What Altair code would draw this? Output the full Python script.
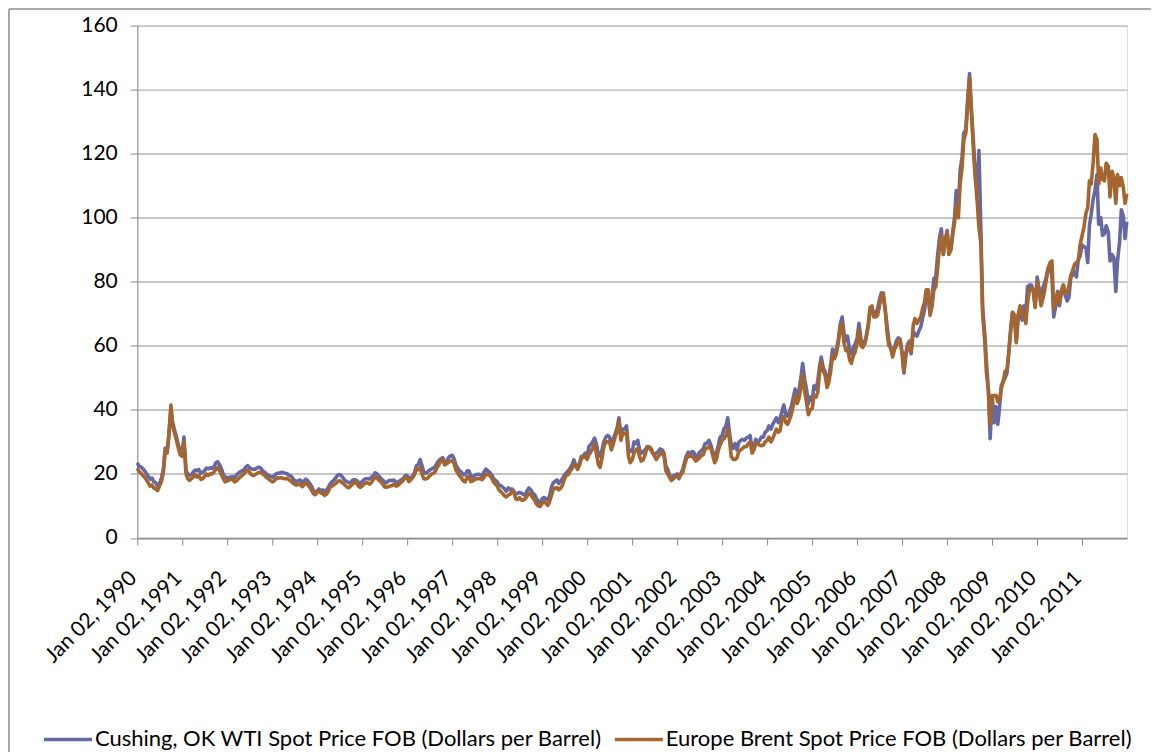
import altair as alt
import pandas as pd

# ---------------- data (semi-monthly points) ----------------
YEARS = list(range(1990, 2012))

WTI = [
    [23.5, 22.4, 22.2, 21.6, 21.0, 20.2, 19.2, 18.4, 18.7, 17.6, 17.2, 16.0, 17.0, 18.5, 21.5, 28.0, 27.5, 32.5, 40.5, 36.0, 33.5, 31.5, 29.0, 27.0],
    [27.0, 31.5, 21.0, 20.0, 19.6, 19.8, 20.6, 21.2, 21.0, 21.4, 20.2, 20.5, 21.0, 21.8, 21.6, 21.9, 21.7, 22.2, 23.5, 23.8, 22.8, 21.6, 19.8, 19.0],
    [18.8, 18.9, 19.0, 19.1, 18.8, 19.6, 20.2, 20.6, 21.0, 21.2, 22.2, 22.6, 21.9, 21.6, 21.4, 21.5, 21.9, 22.1, 21.8, 21.0, 20.5, 19.9, 19.6, 19.2],
    [19.0, 19.3, 20.0, 20.3, 20.2, 20.5, 20.4, 20.2, 20.1, 19.6, 19.3, 18.7, 17.9, 17.6, 17.9, 18.1, 17.3, 17.8, 18.4, 17.9, 17.0, 16.2, 14.8, 14.3],
    [14.6, 15.3, 14.5, 15.0, 14.5, 14.8, 15.8, 16.8, 17.6, 18.0, 18.8, 19.6, 19.8, 19.5, 18.6, 17.9, 17.6, 17.2, 17.4, 18.0, 18.2, 18.0, 17.4, 17.0],
    [17.6, 18.2, 18.5, 18.5, 18.4, 18.9, 19.4, 20.3, 20.0, 19.4, 18.6, 18.1, 17.5, 17.2, 17.8, 18.0, 17.9, 18.1, 17.5, 17.3, 17.8, 18.2, 18.6, 19.4],
    [19.5, 18.4, 18.9, 19.3, 20.5, 22.5, 23.0, 24.5, 22.5, 20.5, 20.2, 20.6, 21.2, 21.5, 21.9, 22.2, 23.5, 24.3, 24.7, 25.1, 23.5, 23.8, 25.0, 25.6],
    [25.8, 24.8, 22.6, 21.8, 21.0, 20.6, 19.7, 19.8, 20.9, 21.0, 19.4, 19.0, 19.5, 19.8, 19.9, 19.8, 19.5, 20.5, 21.5, 21.0, 20.5, 19.8, 18.6, 18.1],
    [17.5, 16.5, 16.3, 15.8, 15.4, 14.6, 15.6, 15.2, 15.3, 14.6, 13.7, 13.9, 14.2, 14.0, 13.6, 13.3, 14.8, 15.6, 15.0, 14.0, 13.5, 12.3, 11.4, 11.0],
    [12.3, 12.6, 12.2, 11.9, 13.0, 15.5, 17.3, 17.6, 18.1, 17.0, 17.8, 18.6, 19.6, 20.3, 21.0, 21.8, 22.9, 24.4, 22.7, 22.0, 23.5, 25.5, 25.6, 26.5],
    [25.5, 28.5, 29.3, 30.0, 31.2, 29.5, 26.0, 25.5, 27.5, 30.0, 31.5, 32.0, 31.5, 29.0, 31.0, 32.5, 34.5, 37.5, 32.0, 34.0, 34.0, 35.0, 28.0, 27.0],
    [27.0, 30.0, 29.5, 30.5, 27.5, 26.5, 27.0, 27.5, 28.5, 28.3, 27.5, 26.5, 26.0, 26.5, 27.0, 27.8, 27.5, 26.5, 22.5, 21.5, 19.5, 18.0, 19.5, 19.5],
    [20.0, 18.5, 20.2, 21.5, 23.5, 25.5, 26.8, 25.5, 27.0, 26.8, 25.2, 25.8, 26.8, 27.2, 28.0, 29.5, 29.6, 30.5, 29.0, 27.0, 26.0, 26.5, 29.0, 31.5],
    [32.0, 34.0, 35.0, 37.5, 33.0, 29.0, 28.0, 29.5, 27.5, 29.8, 30.5, 30.8, 30.5, 31.2, 31.5, 32.0, 28.0, 28.5, 30.8, 29.8, 30.5, 31.5, 31.5, 33.0],
    [33.5, 35.0, 34.0, 35.5, 36.5, 37.5, 36.0, 37.5, 39.5, 41.5, 38.5, 38.0, 39.5, 41.0, 44.0, 46.5, 44.0, 46.0, 50.0, 54.5, 49.5, 46.5, 42.0, 44.0],
    [43.0, 47.5, 46.5, 49.0, 53.5, 56.5, 53.0, 52.0, 48.5, 50.0, 54.5, 59.0, 57.5, 58.5, 62.0, 66.5, 69.0, 64.0, 61.5, 63.0, 58.5, 57.5, 59.5, 60.5],
    [62.5, 67.0, 62.0, 60.5, 60.5, 63.0, 66.5, 71.0, 71.5, 69.5, 70.5, 71.5, 74.5, 76.5, 75.0, 71.5, 66.0, 61.5, 59.0, 57.5, 59.5, 61.5, 62.5, 62.0],
    [57.5, 51.5, 58.0, 60.5, 61.5, 57.5, 64.5, 63.5, 63.0, 64.5, 66.0, 68.5, 71.0, 75.5, 75.5, 70.5, 75.5, 81.0, 81.5, 88.0, 94.0, 96.5, 88.5, 92.5],
    [96.0, 89.5, 90.5, 95.5, 100.0, 108.5, 103.0, 114.5, 119.0, 126.5, 127.5, 136.5, 145.0, 134.0, 124.0, 114.5, 108.0, 121.0, 96.0, 72.0, 64.0, 55.0, 46.0, 31.0],
    [44.5, 36.0, 41.0, 35.5, 40.5, 47.5, 49.0, 50.0, 51.5, 58.0, 66.0, 70.5, 69.5, 61.5, 69.5, 70.5, 68.0, 72.5, 70.5, 78.5, 79.0, 79.0, 77.0, 72.5],
    [81.5, 78.0, 73.5, 78.0, 79.5, 81.5, 84.5, 85.0, 81.5, 69.0, 72.5, 77.0, 72.5, 77.0, 79.0, 76.0, 74.0, 75.0, 81.5, 82.0, 83.0, 81.5, 87.0, 88.0],
    [91.5, 91.0, 90.5, 86.0, 97.5, 101.0, 106.0, 108.5, 113.5, 98.0, 100.0, 94.5, 95.0, 97.5, 95.5, 86.5, 88.5, 87.5, 77.0, 86.5, 92.5, 102.5, 100.5, 93.5],
]
WTI_END = 98.8

BRENT = [
    [21.8, 20.8, 20.2, 19.5, 19.0, 18.2, 17.2, 16.2, 16.5, 15.6, 15.2, 14.8, 16.2, 17.5, 20.5, 27.0, 26.5, 32.0, 41.5, 35.0, 32.5, 30.5, 28.0, 26.0],
    [25.5, 30.0, 20.0, 18.5, 18.0, 18.5, 19.0, 19.8, 19.0, 19.5, 18.3, 18.5, 19.2, 20.0, 19.5, 20.0, 20.0, 20.5, 21.5, 22.0, 21.0, 19.8, 18.5, 17.5],
    [17.8, 18.0, 18.5, 18.2, 17.5, 17.8, 18.5, 19.0, 19.5, 20.0, 20.8, 21.2, 20.5, 19.8, 19.5, 19.8, 20.2, 20.5, 20.5, 20.0, 19.5, 18.8, 18.5, 18.0],
    [17.5, 17.8, 18.5, 18.8, 18.7, 18.8, 18.6, 18.5, 18.6, 18.2, 17.8, 17.2, 16.8, 16.5, 16.7, 16.9, 16.0, 16.6, 17.2, 16.7, 15.8, 15.0, 13.8, 13.5],
    [14.2, 14.8, 14.0, 13.8, 13.3, 13.6, 14.6, 15.8, 16.2, 16.6, 17.0, 17.6, 17.9, 17.5, 17.0, 16.5, 15.8, 15.7, 16.3, 16.8, 17.4, 17.2, 16.2, 15.8],
    [16.2, 16.8, 17.2, 17.2, 16.8, 17.2, 18.3, 18.9, 18.7, 18.1, 17.5, 16.9, 16.0, 15.8, 16.0, 16.2, 16.4, 16.8, 16.2, 16.3, 17.0, 17.4, 18.0, 18.9],
    [18.6, 17.6, 18.2, 18.9, 19.8, 21.5, 21.3, 22.0, 19.8, 18.5, 18.4, 18.7, 19.4, 19.9, 20.2, 20.7, 22.0, 23.0, 24.0, 24.5, 22.8, 23.2, 23.6, 24.0],
    [24.2, 23.3, 21.0, 20.3, 19.4, 18.8, 17.8, 17.5, 18.9, 19.2, 17.6, 17.8, 18.2, 18.5, 18.5, 18.6, 18.2, 18.9, 20.0, 19.8, 19.6, 18.8, 17.6, 16.9],
    [16.2, 15.0, 14.4, 13.8, 13.2, 12.8, 13.4, 13.6, 14.8, 14.3, 12.2, 12.0, 12.6, 11.9, 11.8, 12.2, 13.1, 13.9, 13.6, 12.6, 11.8, 10.6, 10.0, 9.8],
    [10.8, 11.3, 10.8, 10.2, 11.2, 13.0, 15.2, 15.5, 15.7, 15.0, 15.6, 16.5, 18.5, 19.6, 19.8, 20.8, 21.8, 23.0, 22.4, 21.4, 22.8, 24.8, 25.2, 25.6],
    [24.5, 26.0, 27.0, 28.0, 29.5, 26.5, 23.0, 22.0, 25.0, 28.5, 30.0, 30.0, 30.0, 27.5, 29.5, 31.5, 33.5, 36.5, 30.5, 32.5, 32.5, 33.0, 25.5, 23.5],
    [24.5, 26.5, 27.5, 28.0, 25.5, 24.0, 24.5, 26.0, 28.0, 28.5, 28.0, 26.8, 25.5, 24.5, 25.5, 26.0, 27.0, 26.0, 21.0, 20.0, 18.8, 18.0, 18.5, 19.0],
    [19.5, 18.8, 20.0, 20.5, 22.8, 24.5, 26.0, 25.5, 25.5, 25.0, 24.0, 24.5, 25.0, 25.8, 26.0, 27.8, 28.0, 28.5, 28.0, 26.0, 23.5, 24.5, 27.5, 29.0],
    [30.5, 31.0, 32.0, 34.0, 31.0, 25.5, 24.5, 24.5, 25.0, 27.0, 27.5, 28.0, 28.5, 28.5, 29.5, 30.0, 26.5, 27.5, 29.5, 29.5, 29.0, 28.8, 29.0, 30.0],
    [30.5, 31.5, 30.0, 31.0, 32.5, 34.0, 33.0, 33.5, 37.0, 38.0, 36.0, 35.5, 37.0, 38.5, 41.5, 44.5, 42.0, 43.5, 47.0, 51.0, 45.5, 42.5, 38.5, 40.0],
    [40.5, 44.5, 44.0, 45.5, 51.5, 55.0, 52.0, 51.0, 47.0, 48.5, 52.5, 57.0, 56.0, 57.5, 61.0, 65.5, 67.0, 61.0, 58.5, 59.0, 55.5, 54.5, 57.0, 58.0],
    [61.0, 65.0, 60.0, 59.5, 60.5, 62.5, 66.5, 72.0, 72.5, 69.0, 69.0, 69.5, 72.5, 75.5, 76.5, 72.0, 64.0, 60.0, 59.5, 56.5, 59.0, 60.0, 61.5, 62.0],
    [57.5, 52.0, 57.5, 59.0, 61.0, 58.5, 66.5, 68.5, 67.0, 68.0, 69.0, 71.5, 73.5, 77.5, 77.5, 69.5, 72.5, 77.5, 78.5, 84.0, 91.5, 94.5, 88.5, 93.0],
    [95.5, 88.5, 90.0, 94.5, 98.5, 103.5, 100.0, 110.5, 115.5, 124.0, 126.5, 135.5, 143.5, 134.0, 121.5, 113.0, 105.0, 97.0, 92.0, 70.0, 61.5, 51.5, 46.0, 35.5],
    [44.0, 44.5, 44.5, 42.5, 43.0, 46.5, 49.0, 52.0, 52.5, 57.5, 65.0, 70.5, 69.5, 61.0, 70.0, 72.5, 69.5, 70.5, 67.0, 73.5, 78.0, 78.0, 77.0, 72.0],
    [80.0, 77.5, 72.5, 74.5, 77.0, 80.5, 84.0, 86.0, 86.5, 71.5, 73.5, 76.5, 73.5, 76.0, 79.0, 76.5, 76.5, 78.5, 82.0, 83.5, 85.5, 86.0, 86.5, 91.5],
    [94.5, 97.0, 101.5, 103.0, 111.5, 110.5, 117.5, 126.0, 124.5, 110.5, 115.5, 112.0, 111.5, 117.0, 116.0, 106.5, 114.5, 112.5, 104.5, 113.5, 110.0, 112.5, 109.5, 104.5],
]
BRENT_END = 107.5
END_DATE = "2011-12-30"

SERIES = [
    "Cushing, OK WTI Spot Price FOB (Dollars per Barrel)",
    "Europe Brent Spot Price FOB (Dollars per Barrel)",
]
COLORS = ["#6568A3", "#A4652E"]
Y_TICKS = [0, 20, 40, 60, 80, 100, 120, 140, 160]

# ---------------- table ----------------
dates = []
for y in YEARS:
    for m in range(1, 13):
        dates.append(f"{y}-{m:02d}-02")
        dates.append(f"{y}-{m:02d}-16")
dates.append(END_DATE)
wti_vals = [v for row in WTI for v in row] + [WTI_END]
brent_vals = [v for row in BRENT for v in row] + [BRENT_END]

records = []
for d, v in zip(dates, wti_vals):
    records.append({"date": d, "price": v, "series": SERIES[0]})
for d, v in zip(dates, brent_vals):
    records.append({"date": d, "price": v, "series": SERIES[1]})
df = pd.DataFrame(records)

W, H = 990, 512.5
FONT = "Lato"
AXIS_GRAY = "#8a8a8a"
GRID_GRAY = "#b5b5b5"

x_ticks = [alt.DateTime(year=y, month=1, date=2, utc=True) for y in YEARS]

lines = alt.Chart(df).mark_line(strokeWidth=3.6, strokeJoin="round").encode(
    x=alt.X(
        "date:T",
        scale=alt.Scale(
            type="utc",
            domain=[
                alt.DateTime(year=1990, month=1, date=2, utc=True),
                alt.DateTime(year=2012, month=1, date=1, utc=True),
            ],
        ),
        axis=alt.Axis(
            title=None,
            values=x_ticks,
            labelExpr="utcFormat(datum.value, '%b %d, %Y')",
            labelAngle=315,
            labelAlign="right",
            labelBaseline="top",
            labelOffset=-12,
            labelPadding=22,
            labelFontSize=21,
            labelFont=FONT,
            labelColor="#000000",
            labelOverlap=False,
            labelFlush=False,
            labelBound=False,
            tickSize=7,
            tickColor=AXIS_GRAY,
            tickWidth=1,
            domainColor=AXIS_GRAY,
            domainWidth=1.3,
            grid=False,
        ),
    ),
    y=alt.Y(
        "price:Q",
        scale=alt.Scale(domain=[0, 160], nice=False),
        axis=alt.Axis(
            title=None,
            values=Y_TICKS,
            labelFontSize=21,
            labelFont=FONT,
            labelColor="#000000",
            labelPadding=13,
            tickSize=7,
            tickColor=AXIS_GRAY,
            tickWidth=1,
            domainColor=AXIS_GRAY,
            domainWidth=1,
            grid=True,
            gridColor=GRID_GRAY,
            gridWidth=1.4,
        ),
    ),
    color=alt.Color(
        "series:N",
        scale=alt.Scale(domain=SERIES, range=COLORS),
        legend=alt.Legend(
            title=None,
            orient="none",
            legendX=42 - 137.3,
            legendY=688,
            direction="horizontal",
            symbolType="stroke",
            symbolSize=2304,
            symbolStrokeWidth=3.5,
            labelFontSize=22,
            labelFont=FONT,
            labelColor="#000000",
            labelLimit=800,
            labelOffset=1,
            columnPadding=5,
        ),
    ),
)

frame_df = pd.DataFrame({"k": [0]})
frame_left = alt.Chart(frame_df).mark_rule(color="#8c8c8c", strokeWidth=1.5).encode(
    x=alt.value(-128.3), y=alt.value(-16.5), y2=alt.value(800)
)
frame_top = alt.Chart(frame_df).mark_rule(color="#8c8c8c", strokeWidth=1.5).encode(
    x=alt.value(-128.3), x2=alt.value(W + 40), y=alt.value(-16.5)
)

chart = alt.layer(lines, frame_left, frame_top).properties(
    width=W,
    height=H,
    padding={"left": 129.3, "top": 17.5, "right": 24, "bottom": 214},
    autosize=alt.AutoSizeParams(type="none"),
    background="white",
).configure_view(stroke=None).configure(font=FONT)

chart.save("out.html", embed_options={"renderer": "svg", "actions": False})
